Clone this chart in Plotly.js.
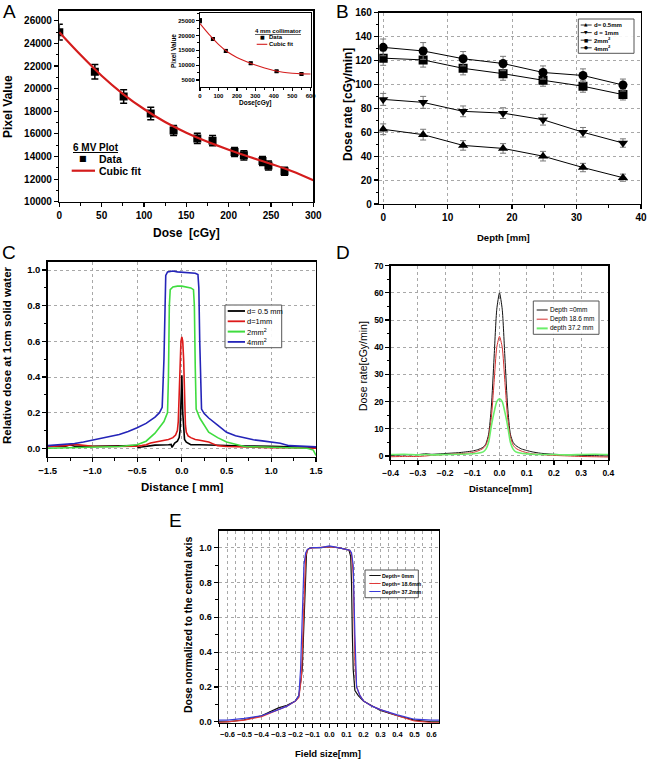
<!DOCTYPE html>
<html><head><meta charset="utf-8">
<script src="https://cdn.plot.ly/plotly-3.0.1.min.js"></script>
<style>html,body{margin:0;padding:0;background:#fff}#chart{width:648px;height:762px}</style>
</head><body><div id="chart"></div>
<script>
// ---------- Panel A : 6 MV calibration ----------
const doseA = [0,42,76,108,135,163,181,207,218,240,247,266];
const pixelA = [25000,21500,19300,17800,16300,15600,15400,14400,14100,13600,13200,12700];
const pixelErrA = [700,650,600,550,450,450,450,400,400,400,400,350];
const fitDoseA = [0,25,50,75,100,125,150,175,200,225,250,275,300];
const fitPixelA = [25000,23000,21150,19550,18200,17050,16100,15300,14600,13950,13350,12700,11900];
// inset : 4 mm collimator
const doseIn = [0,70,140,275,415,550];
const pixelIn = [25000,18800,14800,10600,7900,7000];
const pixelErrIn = [700,500,500,400,300,300];
const fitDoseIn = [0,50,100,150,200,250,300,350,400,450,500,550,600];
const fitPixelIn = [24000,20300,17000,14400,12600,11200,10000,9000,8200,7600,7250,7050,7000];

// ---------- Panel B : dose rate vs depth ----------
const depthB = [0,6.2,12.4,18.6,24.8,31,37.2];
const rate05 = [62.5,58,49,46.5,40,30.5,22];
const rate1  = [87.5,85,77.5,76,70.5,60,51];
const rate2  = [122,120.5,113.5,109,103.5,98.5,91.5];
const rate4  = [131,128,121.5,117.5,110,107.5,99.5];
const err05 = [4.5,4.5,4,4,4,3.5,3];
const err1  = [5,5,4.5,4.5,4.5,4,3.5];
const err2  = [6,6,5.5,5.5,5,5,4.5];
const err4  = [7,7,6,6,5.5,5.5,5];
const namesB = ['d= 0.5mm','d = 1mm','2mm<sup>2</sup>','4mm<sup>2</sup>'];

// ---------- Panel C : relative dose profiles ----------
const xC05 = [-1.5,-1.3,-1.25,-1.2,-1.0,-0.7,-0.5,-0.49,-0.3,-0.15,-0.12,-0.11,-0.08,-0.05,-0.03,-0.02,-0.01,0.0,0.01,0.02,0.03,0.05,0.08,0.1,0.2,0.3,0.5,0.7,1.0,1.2,1.4,1.5];
const yC05 = [0.01,0.012,0.02,0.012,0.012,0.013,0.015,0.005,0.018,0.02,0.022,0.005,0.03,0.04,0.06,0.1,0.25,0.41,0.2,0.08,0.05,0.035,0.025,0.02,0.02,0.018,0.015,0.013,0.012,0.01,0.008,0.005];
const xC1 = [-1.5,-1.3,-1.2,-1.1,-1.0,-0.8,-0.6,-0.5,-0.45,-0.4,-0.35,-0.3,-0.25,-0.2,-0.15,-0.1,-0.07,-0.05,-0.04,-0.03,-0.02,-0.01,0.0,0.01,0.02,0.03,0.04,0.05,0.07,0.1,0.15,0.2,0.25,0.3,0.35,0.4,0.5,0.6,0.7,0.8,1.0,1.2,1.4,1.5];
const yC1 = [0.01,0.015,0.022,0.015,0.012,0.01,0.01,0.012,0.015,0.02,0.03,0.035,0.04,0.045,0.05,0.06,0.075,0.1,0.15,0.3,0.5,0.6,0.625,0.6,0.5,0.3,0.13,0.09,0.07,0.06,0.05,0.045,0.04,0.035,0.025,0.015,0.01,0.008,0.006,0.005,0.004,0.003,0.002,0.0];
const xC2 = [-1.5,-1.0,-0.7,-0.5,-0.4,-0.3,-0.25,-0.2,-0.16,-0.15,-0.14,-0.13,-0.1,-0.05,0.0,0.05,0.1,0.13,0.14,0.15,0.16,0.2,0.3,0.4,0.5,0.7,1.0,1.2,1.4,1.47,1.5];
const yC2 = [0.0,0.005,0.01,0.02,0.04,0.085,0.12,0.15,0.2,0.4,0.8,0.89,0.905,0.91,0.91,0.905,0.9,0.89,0.8,0.45,0.22,0.17,0.09,0.06,0.035,0.01,0.005,0.003,0.0,-0.01,-0.04];
const xC4 = [-1.5,-1.4,-1.3,-1.2,-1.1,-1.0,-0.9,-0.8,-0.7,-0.6,-0.5,-0.4,-0.3,-0.25,-0.22,-0.2,-0.19,-0.18,-0.16,-0.1,-0.05,0.0,0.05,0.1,0.15,0.18,0.19,0.2,0.21,0.22,0.25,0.3,0.4,0.5,0.6,0.7,0.8,0.9,1.0,1.1,1.2,1.3,1.4,1.5];
const yC4 = [0.015,0.018,0.022,0.027,0.035,0.045,0.055,0.065,0.078,0.095,0.115,0.14,0.175,0.2,0.23,0.5,0.85,0.97,0.99,0.995,0.99,0.988,0.987,0.986,0.982,0.975,0.9,0.6,0.35,0.22,0.195,0.17,0.13,0.09,0.07,0.058,0.048,0.042,0.036,0.028,0.015,0.012,0.01,0.008];
const namesC = ['d= 0.5 mm','d=1mm','2mm<sup>2</sup>','4mm<sup>2</sup>'];

// ---------- Panel D : dose rate profiles ----------
const xD = [-0.4,-0.35,-0.3,-0.27,-0.25,-0.2,-0.15,-0.1,-0.08,-0.06,-0.05,-0.04,-0.03,-0.02,-0.01,0.0,0.01,0.02,0.03,0.04,0.05,0.06,0.08,0.1,0.12,0.15,0.2,0.25,0.3,0.35,0.4];
const yD0  = [0.2,0.4,0.5,0.8,0.6,0.9,1.2,1.8,2.3,3.2,4.5,8,18,36,54,60,54,36,18,8,5,3.8,2.6,2.0,1.5,1.0,0.6,0.4,0.2,0.1,0.0];
const yD18 = [-0.3,-0.2,-0.2,0,0.2,0.5,0.8,1.2,1.8,2.8,4,7,14,27,40,44,40,27,14,7,4,2.8,1.8,1.2,0.8,0.5,0.2,0,-0.2,-0.3,-0.4];
const yD37 = [0.5,0.6,0.4,0.5,0.4,0.5,0.6,0.8,1,1.5,2.5,5,11,16,20,21,20,16,11,5,2.5,1.5,1,0.8,0.6,0.5,0.5,0.4,0.5,0.6,0.5];
const namesD = ['Depth =0mm','Depth 18.6 mm','depth 37.2 mm'];

// ---------- Panel E : normalized profiles ----------
const xE0 = [-0.65,-0.6,-0.5,-0.4,-0.3,-0.25,-0.2,-0.18,-0.16,-0.15,-0.14,-0.135,-0.13,-0.12,-0.1,-0.05,0,0.05,0.1,0.115,0.125,0.13,0.135,0.14,0.15,0.17,0.2,0.25,0.3,0.4,0.5,0.6,0.65];
const yE0 = [0.0,0.0,0.012,0.035,0.08,0.095,0.12,0.15,0.3,0.6,0.88,0.96,0.985,0.995,1.0,1.0,1.005,1.0,0.99,0.985,0.95,0.8,0.5,0.3,0.18,0.15,0.12,0.09,0.065,0.035,0.01,0.0,0.0];
const xE18 = [-0.65,-0.6,-0.5,-0.4,-0.3,-0.25,-0.2,-0.18,-0.165,-0.155,-0.145,-0.14,-0.13,-0.12,-0.1,-0.05,0,0.05,0.1,0.12,0.13,0.14,0.145,0.15,0.16,0.18,0.2,0.25,0.3,0.4,0.5,0.6,0.65];
const yE18 = [-0.005,0.0,0.01,0.03,0.07,0.09,0.12,0.14,0.25,0.5,0.85,0.95,0.985,0.995,0.998,1.0,1.005,1.0,0.99,0.985,0.96,0.85,0.6,0.35,0.2,0.15,0.12,0.09,0.07,0.035,0.005,-0.005,-0.005];
const xE37 = [-0.65,-0.6,-0.5,-0.4,-0.3,-0.25,-0.2,-0.18,-0.17,-0.16,-0.15,-0.14,-0.13,-0.12,-0.1,-0.05,0,0.05,0.1,0.12,0.13,0.14,0.15,0.155,0.16,0.18,0.2,0.25,0.3,0.4,0.5,0.6,0.65];
const yE37 = [0.01,0.01,0.02,0.035,0.07,0.09,0.12,0.15,0.3,0.6,0.9,0.97,0.99,0.995,1.0,1.0,1.01,1.0,0.99,0.985,0.97,0.9,0.5,0.3,0.2,0.15,0.12,0.09,0.07,0.04,0.015,0.01,0.01];
const namesE = ['Depth= 0mm','Depth= 18.6mm','Depth= 37.2mm'];

// ================= drawing =================
const W = 648, H = 762;
const F = 'Liberation Sans, Arial, sans-serif';
const px = v => v / W, py = v => 1 - v / H;
const RED = '#d41c1c';

const traces = [
  {x: doseA, y: pixelA, xaxis:'x', yaxis:'y', mode:'markers', marker:{symbol:'square', size:8, color:'#000'},
   error_y:{type:'data', array:pixelErrA, color:'#000', thickness:1.5, width:3.5}},
  {x: fitDoseA, y: fitPixelA, xaxis:'x', yaxis:'y', mode:'lines', line:{color:RED, width:2.2, shape:'spline'}},
  {x: doseIn, y: pixelIn, xaxis:'x2', yaxis:'y2', mode:'markers', marker:{symbol:'square', size:4, color:'#000'},
   error_y:{type:'data', array:pixelErrIn, color:'#000', thickness:1, width:2}},
  {x: fitDoseIn, y: fitPixelIn, xaxis:'x2', yaxis:'y2', mode:'lines', line:{color:RED, width:1.1, shape:'spline'}},
];
const bSeries = [[rate05, err05, 'triangle-up'], [rate1, err1, 'triangle-down'], [rate2, err2, 'square'], [rate4, err4, 'circle']];
bSeries.forEach(s => traces.push({x: depthB, y: s[0], xaxis:'x3', yaxis:'y3', mode:'lines+markers',
  line:{color:'#000', width:1}, marker:{symbol:s[2], size:9, color:'#000'},
  error_y:{type:'data', array:s[1], color:'#777', thickness:1, width:3}}));
const colC = ['#000000', '#dd1a1a', '#3fdc3f', '#2424b8'];
[[xC05,yC05],[xC1,yC1],[xC2,yC2],[xC4,yC4]].forEach((s,i) => traces.push({x:s[0], y:s[1], xaxis:'x4', yaxis:'y4',
  mode:'lines', line:{color:colC[i], width:1.6}}));
const colD = ['#111111', '#d43030', '#6aee6a'];
const widD = [1, 1, 1.6];
[yD0, yD18, yD37].forEach((s,i) => traces.push({x:xD, y:s, xaxis:'x5', yaxis:'y5', mode:'lines',
  line:{color:colD[i], width:widD[i], shape:'spline', smoothing:0.6}}));
const colE = ['#111111', '#e03a3a', '#3a3ad8'];
[[xE0,yE0],[xE18,yE18],[xE37,yE37]].forEach((s,i) => traces.push({x:s[0], y:s[1], xaxis:'x6', yaxis:'y6', mode:'lines',
  line:{color:colE[i], width:1.2}}));

// axes
const GRID = {showgrid:true, gridcolor:'#a8a8a8', griddash:'dot', gridwidth:1};
function ax(o) {
  return Object.assign({showline:true, linecolor:'#000', linewidth:1.4, mirror:true, ticks:'outside', ticklen:4,
    tickwidth:1.2, tickcolor:'#000', showgrid:false, zeroline:false, fixedrange:true, tickangle:0,
    tickfont:{family:F, size:10, weight:'bold', color:'#000'}}, o);
}
const panels = [
  {id:'', xd:[59.3,313.3], yd:[10.7,201.7], xr:[0,300], yr:[10000,26900], xdt:50, xm:25, ydt:2000, ym:1000, fx:10, fy:10, yfmt:'d'},
  {id:'2', xd:[200,310.7], yd:[13,87], xr:[0,600], yr:[2600,27600], xdt:100, xm:50, ydt:5000, ym:2500, fx:6, fy:6, yfmt:'d', tl:2.5},
  {id:'3', xd:[379.3,641], yd:[12.7,204], xr:[-0.6,40], yr:[0,160], xdt:10, xm:5, ydt:20, ym:10, fx:10, fy:10, grid:true},
  {id:'4', xd:[47.7,316], yd:[261.7,456.7], xr:[-1.5,1.5], yr:[-0.047,1.047], xdt:0.5, xm:0.25, ydt:0.2, ym:0.1, fx:9.5, fy:9.5, xfmt:'.1f', yfmt:'.1f', grid:true},
  {id:'5', xd:[390.7,608.3], yd:[265.7,460], xr:[-0.4,0.4], yr:[-1.5,70], xdt:0.1, xm:0.05, ydt:10, ym:5, fx:8.5, fy:8.5, xfmt:'.1f', grid:true},
  {id:'6', xd:[219,439], yd:[530.7,722.7], xr:[-0.65,0.645], yr:[-0.005,1.097], xdt:0.1, xm:0.05, ydt:0.2, ym:0.1, fx:7.5, fy:9, xfmt:'.1f', yfmt:'.1f', grid:true, xminorgrid:true},
];
const layout = {width:W, height:H, margin:{l:0,r:0,t:0,b:0}, showlegend:false, paper_bgcolor:'#fff', plot_bgcolor:'#fff',
  font:{family:F, color:'#000'}, annotations:[], shapes:[]};
panels.forEach((p, i) => {
  const xid = 'x' + p.id, yid = 'y' + p.id;
  const xdom = [px(p.xd[0]), px(p.xd[1])], ydom = [py(p.yd[1]), py(p.yd[0])];
  const tl = p.tl || 4;
  const xa = ax({domain:xdom, anchor:yid, range:p.xr, dtick:p.xdt, tick0:0, ticklen:tl, tickfont:{family:F, size:p.fx, weight:'bold', color:'#000'},
    minor:{dtick:p.xm, tick0:0, ticks:'outside', ticklen:tl*0.6, tickcolor:'#000', tickwidth:1, showgrid:!!p.xminorgrid, gridcolor:'#a8a8a8', griddash:'dot', gridwidth:1}});
  const ya = ax({domain:ydom, anchor:xid, range:p.yr, dtick:p.ydt, tick0:0, ticklen:tl, tickfont:{family:F, size:p.fy, weight:'bold', color:'#000'},
    minor:{dtick:p.ym, tick0:0, ticks:'outside', ticklen:tl*0.6, tickcolor:'#000', tickwidth:1}});
  if (p.xfmt) xa.tickformat = p.xfmt;
  if (p.yfmt) ya.tickformat = p.yfmt;
  if (p.grid) { Object.assign(xa, GRID); Object.assign(ya, GRID); }
  layout['xaxis' + p.id] = xa;
  layout['yaxis' + p.id] = ya;
  // inward ticks on top / right edges (Origin style)
  const k = 7 + i;
  layout['xaxis' + k] = {overlaying:xid, anchor:yid, side:'top', range:p.xr, dtick:p.xdt, tick0:0, ticks:'inside', ticklen:tl,
    tickwidth:1.2, tickcolor:'#000', showticklabels:false, showgrid:false, showline:false, zeroline:false, fixedrange:true,
    minor:{dtick:p.xm, tick0:0, ticks:'inside', ticklen:tl*0.6, tickcolor:'#000', tickwidth:1}};
  layout['yaxis' + k] = {overlaying:yid, anchor:xid, side:'right', range:p.yr, dtick:p.ydt, tick0:0, ticks:'inside', ticklen:tl,
    tickwidth:1.2, tickcolor:'#000', showticklabels:false, showgrid:false, showline:false, zeroline:false, fixedrange:true,
    minor:{dtick:p.ym, tick0:0, ticks:'inside', ticklen:tl*0.6, tickcolor:'#000', tickwidth:1}};
});

// text helpers
function txt(t, x, y, size, o) {
  layout.annotations.push(Object.assign({text:t, x:px(x), y:py(y), xref:'paper', yref:'paper', showarrow:false,
    xanchor:'center', yanchor:'middle', borderpad:0, font:{family:F, size:size, color:'#000', weight:'bold'}}, o || {}));
}
function line(x0, x1, y, color, w) {
  layout.shapes.push({type:'line', xref:'paper', yref:'paper', x0:px(x0), x1:px(x1), y0:py(y), y1:py(y), line:{color:color, width:w}});
}
function box(x0, y0, x1, y1) {
  layout.shapes.push({type:'rect', xref:'paper', yref:'paper', x0:px(x0), x1:px(x1), y0:py(y1), y1:py(y0), line:{color:'#555', width:1}, fillcolor:'rgba(255,255,255,0.9)'});
}
function legend(cfg) {
  if (cfg.box) box(...cfg.box);
  cfg.names.forEach((n, i) => {
    const y = cfg.y0 + i * cfg.dy;
    if (cfg.colors && cfg.widths[i] > 0) line(cfg.lx[0], cfg.lx[1], y, cfg.colors[i], cfg.widths[i]);
    if (cfg.glyphs && cfg.glyphs[i]) txt(cfg.glyphs[i], (cfg.lx[0] + cfg.lx[1]) / 2, y, cfg.gsize, {font:{family:'DejaVu Sans', size:cfg.gsize, color:'#000'}});
    txt(n, cfg.tx, y, cfg.size, {xanchor:'left', font:{family:F, size:cfg.size, color:'#000', weight:cfg.bold ? 'bold' : 'normal'}});
  });
}

// panel letters
[['A',9,11],['B',342,11],['C',9,252],['D',343,252],['E',175,520]].forEach(l =>
  txt(l[0], l[1], l[2], 19, {font:{family:F, size:19, color:'#000', weight:'normal'}}));

// axis titles
txt('Dose  [cGy]', 186, 233, 12);
txt('Pixel Value', 8, 107, 12, {textangle:-90});
txt('Dose[cGy]', 255, 103, 6.5);
txt('Pixel Value', 174, 51, 6.5, {textangle:-90});
txt('Depth [mm]', 503, 237, 9.5);
txt('Dose rate [cGy/min]', 348, 105, 12, {textangle:-90});
txt('Distance [ mm]', 182, 487, 11.5);
txt('Relative dose at 1cm solid water', 7, 355, 11.5, {textangle:-90});
txt('Distance[mm]', 500, 488, 9.5);
txt('Dose rate[cGy/min]', 363, 366, 10.5, {textangle:-90, font:{family:F, size:10.5, color:'#000', weight:'normal'}});
txt('Field size[mm]', 328, 753, 9.5);
txt('Dose normalized to the central axis', 188, 625, 10.5, {textangle:-90});

// legends
txt('<u>6 MV Plot</u>', 71.5, 147, 10, {xanchor:'left'});
legend({names:['Data','Cubic fit'], y0:159, dy:11.7, lx:[71.7,95], tx:98, size:10.5, bold:true,
  colors:['#000', RED], widths:[0, 2.2], glyphs:['■',''], gsize:8});
txt('<u>4 mm collimator</u>', 278, 30.5, 6);
legend({names:['Data','Cubic fit'], y0:37.3, dy:7, lx:[256.7,267.3], tx:268, size:6, bold:true,
  colors:['#000', RED], widths:[0, 1.1], glyphs:['■',''], gsize:5});
legend({box:[578.3,19,634,53.3], names:namesB, y0:25, dy:7.6, lx:[580.7,591.7], tx:592.5, size:6, bold:true,
  colors:['#000','#000','#000','#000'], widths:[0.8,0.8,0.8,0.8], glyphs:['▲','▼','■','●'], gsize:4.5});
legend({box:[225,305,281.7,347.7], names:namesC, y0:311, dy:10.3, lx:[227.7,245], tx:245.5, size:7.5, bold:false,
  colors:colC, widths:[1.8,1.8,2,1.8]});
legend({box:[533.3,301,599,334.3], names:namesD, y0:310, dy:9.2, lx:[536.7,547.7], tx:548.5, size:6.5, bold:false,
  colors:colD, widths:[1,1,2]});
legend({box:[365,570,418.3,597.7], names:namesE, y0:575.5, dy:8, lx:[369.3,380.7], tx:381.2, size:5.3, bold:true,
  colors:colE, widths:[1,1,1]});

Plotly.newPlot('chart', traces, layout, {staticPlot:true, displayModeBar:false});
</script>
</body></html>
